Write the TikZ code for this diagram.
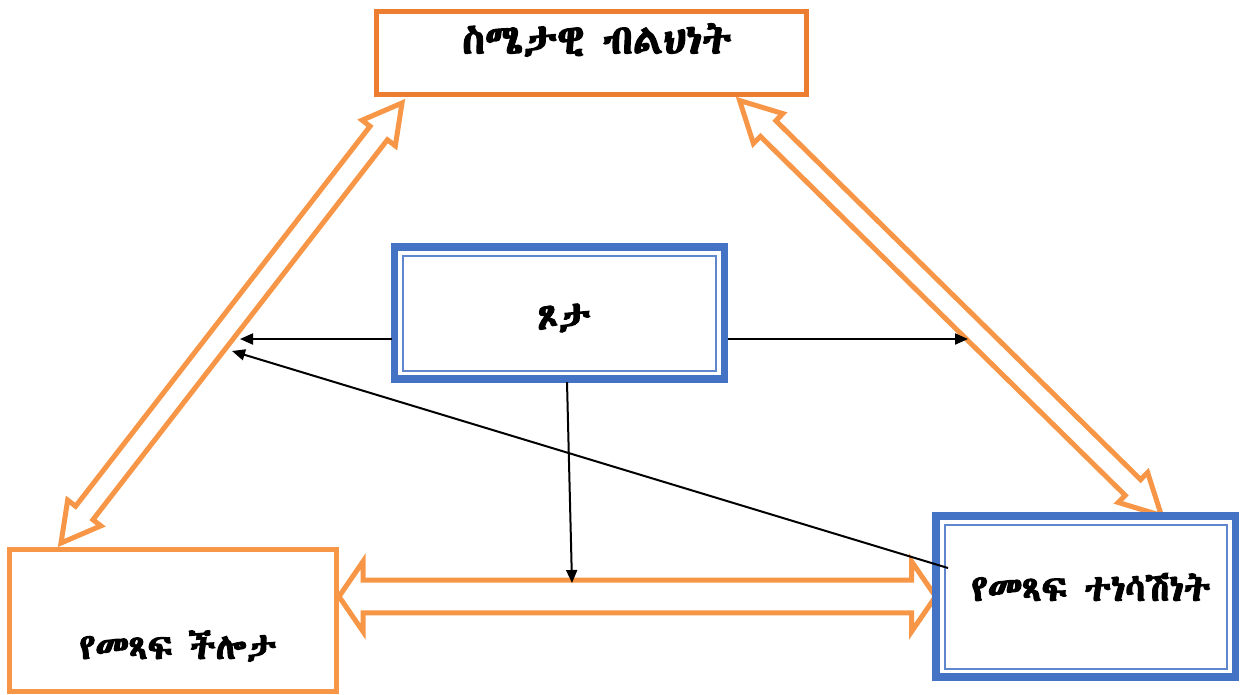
\documentclass[tikz,border=0pt]{standalone}
\usepackage{fontspec}
\usetikzlibrary{calc,arrows.meta}
% Ethiopic-capable face, with fallbacks
\IfFontExistsTF{Abyssinica SIL}{\newfontfamily\ethfont{Abyssinica SIL}[Script=Ethiopic,AutoFakeBold=3]}{%
  \IfFontExistsTF{FreeSerif}{\newfontfamily\ethfont{FreeSerif}[Script=Ethiopic,AutoFakeBold=3]}{%
    \IfFontExistsTF{FreeSans}{\newfontfamily\ethfont{FreeSans}[Script=Ethiopic,AutoFakeBold=3]}{%
      \newfontfamily\ethfont{DejaVu Sans}}}}
\definecolor{deeporange}{HTML}{ED7D31}
\definecolor{softorange}{HTML}{F79646}
\definecolor{boxblue}{HTML}{4472C4}
% hollow two-headed block arrow between two named points:
% #1,#2 tips, #3 head length, #4 head half-width, #5 shaft half-width
\newcommand\twoway[5]{%
  \path ($(#1)!#3!(#2)$) coordinate (hA) ($(#2)!#3!(#1)$) coordinate (hB);
  \draw[blockarrow] (#1)
    -- ($(hA)!#4!90:(#2)$) -- ($(hA)!#5!90:(#2)$)
    -- ($(hB)!#5!-90:(#1)$) -- ($(hB)!#4!-90:(#1)$)
    -- (#2)
    -- ($(hB)!#4!90:(#1)$) -- ($(hB)!#5!90:(#1)$)
    -- ($(hA)!#5!-90:(#2)$) -- ($(hA)!#4!-90:(#2)$)
    -- cycle;}
\begin{document}
\begin{tikzpicture}[x=1pt,y=-1pt,
  plainbox/.style={draw,rectangle,inner sep=0pt,outer sep=0pt,line width=5pt,fill=white},
  bluebox/.style={draw=boxblue,rectangle,inner sep=0pt,outer sep=0pt,line width=7.5pt,fill=white},
  innerline/.style={draw=boxblue!85!white,line width=2pt},
  amh/.style={font=\ethfont\bfseries\fontsize{#1}{#1}\selectfont,inner sep=0pt},
  link/.style={line width=2pt,-{Triangle[length=13pt,width=11pt]}},
  blockarrow/.style={draw=softorange,line width=5pt,fill=white,line join=miter}]

\useasboundingbox (0,0) rectangle (1246,694);

% tips of the three block arrows
\coordinate (lt) at (402,103);
\coordinate (lb) at (61,543);
\coordinate (rt) at (739.6,100.5);
\coordinate (rb) at (1161.4,515.5);
\coordinate (hl) at (339,596.5);
\coordinate (hr) at (935.6,596.5);

\twoway{lt}{lb}{38pt}{21pt}{11pt}
\twoway{rt}{rb}{40pt}{21pt}{11pt}
\twoway{hl}{hr}{24pt}{35pt}{16.3pt}

% boxes
\node[plainbox,draw=deeporange,minimum width=429.5pt,minimum height=83pt] (ei) at (591.25,53.1) {};
\node[amh=41] (eitext) at (597,40) {ስሜታዊ ብልህነት};

\node[bluebox,minimum width=330pt,minimum height=132pt] (g) at (559.5,313) {};
\draw[innerline] ([shift={(8.5,8.5)}]g.north west) rectangle ([shift={(-8.5,-8.5)}]g.south east);
\node[amh=39] (gtext) at (564,318) {ጾታ};

\node[plainbox,draw=softorange,minimum width=326.2pt,minimum height=141.2pt] (sk) at (172.9,620.4) {};
\node[amh=36] (sktext) at (178,646) {የመጻፍ ችሎታ};

\node[bluebox,minimum width=299.5pt,minimum height=161pt] (m) at (1085.75,596.5) {};
\draw[innerline] ([shift={(8.5,8.5)}]m.north west) rectangle ([shift={(-8.5,-8.5)}]m.south east);
\node[amh=37] (mtext) at (1091,587) {የመጻፍ ተነሳሽነት};

% plain arrows
\coordinate (le) at (240,339);
\coordinate (re) at (968,339);
\coordinate (de) at (572,583);
\coordinate (me) at (232,351);
\draw[link] ([xshift=-3pt,yshift=-26pt]g.west) -- (le);
\draw[link] ([xshift=3.5pt,yshift=-26pt]g.east) -- (re);
\draw[link] ([xshift=7.5pt,yshift=-3pt]g.south) -- (de);
\draw[link] ([xshift=12pt,yshift=28.5pt]m.west) -- (me);
\end{tikzpicture}
\end{document}
